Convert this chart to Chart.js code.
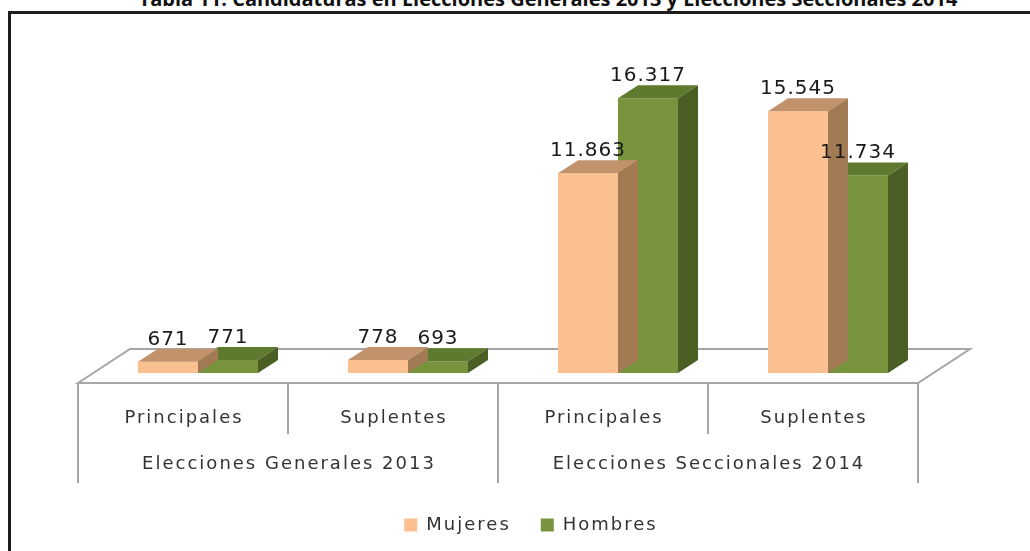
<!DOCTYPE html>
<html>
<head>
<meta charset="utf-8">
<script src="https://cdn.jsdelivr.net/npm/chart.js@4"></script>
<style>
    html, body { margin: 0; padding: 0; background: #fff; overflow: hidden; }
    #wrap { position: relative; width: 1030px; height: 551px; overflow: hidden; }
    #title { position: absolute; left: 0; width: 1096px; top: -15px; text-align: center; font: bold 20px "Open Sans"; color: #111; white-space: nowrap; }
    #frame { position: absolute; left: 8px; top: 11px; width: 1100px; height: 600px; border-left: 3px solid #1c1c1c; border-top: 3px solid #1c1c1c; }
    canvas { position: absolute; left: 0; top: 0; }
</style>
</head>
<body>
<div id="wrap">
    <div id="title">Tabla 11: Candidaturas en Elecciones Generales 2013 y Elecciones Seccionales 2014</div>
    <div id="frame"></div>
    <canvas id="chart" width="1030" height="551"></canvas>
</div>
<script>
const categories = ['Principales', 'Suplentes', 'Principales', 'Suplentes'];
const groups = ['Elecciones Generales 2013', 'Elecciones Seccionales 2014'];
const seriesNames = ['Mujeres', 'Hombres'];
const mujeres = [671, 778, 11863, 15545];
const hombres = [771, 693, 16317, 11734];

const frontColors = ['#FAC090', '#77933C'];
const topColors = ['#C2926C', '#5E7A2E'];
const sideColors = ['#A27A54', '#4B5F24'];

// 3D depth of bars and floor
const DX = 20, DY = -13;
const FLOOR_DX = 52, FLOOR_DY = -34;

const fmt = v => String(v).replace(/\B(?=(\d{3})+(?!\d))/g, '.');

function poly(ctx, pts, fill) {
    ctx.beginPath();
    ctx.moveTo(pts[0][0], pts[0][1]);
    pts.slice(1).forEach(p => ctx.lineTo(p[0], p[1]));
    ctx.closePath();
    ctx.fillStyle = fill;
    ctx.fill();
}

const spacingPlugin = {
    id: 'spacing',
    beforeUpdate(chart) { chart.ctx.letterSpacing = '2px'; },
    beforeDraw(chart) { chart.ctx.letterSpacing = '2px'; }
};

const floorPlugin = {
    id: 'floor',
    beforeDatasetsDraw(chart) {
        const ctx = chart.ctx;
        const a = chart.chartArea;
        const fy = a.bottom + 10;
        const fl = a.left - 15, fr = a.right - 15;
        ctx.save();
        ctx.strokeStyle = '#A6A6A6';
        ctx.lineWidth = 2;
        ctx.beginPath();
        ctx.moveTo(fl, fy);
        ctx.lineTo(fl + FLOOR_DX, fy + FLOOR_DY);
        ctx.lineTo(fr + FLOOR_DX, fy + FLOOR_DY);
        ctx.lineTo(fr, fy);
        ctx.closePath();
        ctx.stroke();

        // category table under the floor
        const w = (a.right - a.left) / categories.length;
        for (let k = 0; k <= categories.length; k++) {
            const x = fl + k * w;
            ctx.beginPath();
            ctx.moveTo(x, fy);
            ctx.lineTo(x, fy + (k % 2 === 0 ? 100 : 51));
            ctx.stroke();
        }
        ctx.fillStyle = '#333';
        ctx.font = '18px "DejaVu Sans"';
        ctx.letterSpacing = '2px';
        ctx.textAlign = 'center';
        ctx.textBaseline = 'middle';
        categories.forEach((c, k) => ctx.fillText(c, fl + (k + 0.5) * w + 1, fy + 35));
        groups.forEach((g, k) => ctx.fillText(g, fl + (k + 0.5) * 2 * w + 1, fy + 81));
        ctx.restore();
    }
};

const depthPlugin = {
    id: 'depth',
    afterDatasetDraw(chart, args) {
        const ctx = chart.ctx;
        const i = args.index;
        const base = chart.scales.y.getPixelForValue(0);
        ctx.save();
        chart.getDatasetMeta(i).data.forEach(bar => {
            const l = bar.x - bar.width / 2, r = bar.x + bar.width / 2, t = bar.y;
            poly(ctx, [[l, t], [r, t], [r + DX, t + DY], [l + DX, t + DY]], topColors[i]);
            poly(ctx, [[r, t], [r + DX, t + DY], [r + DX, base + DY], [r, base]], sideColors[i]);
        });
        ctx.restore();
    },
    afterDatasetsDraw(chart) {
        const ctx = chart.ctx;
        ctx.save();
        ctx.font = '20px "DejaVu Sans"';
        ctx.letterSpacing = '1px';
        ctx.fillStyle = '#1a1a1a';
        ctx.textAlign = 'center';
        ctx.textBaseline = 'alphabetic';
        chart.data.datasets.forEach((ds, i) => {
            chart.getDatasetMeta(i).data.forEach((bar, j) => {
                ctx.fillText(fmt(ds.data[j]), bar.x, bar.y + DY - 4);
            });
        });
        ctx.restore();
    }
};

new Chart(document.getElementById('chart').getContext('2d'), {
    type: 'bar',
    data: {
        labels: categories,
        datasets: [
            { label: seriesNames[0], data: mujeres, backgroundColor: frontColors[0] },
            { label: seriesNames[1], data: hombres, backgroundColor: frontColors[1] }
        ]
    },
    options: {
        responsive: false,
        animation: false,
        layout: { padding: { top: 70, left: 93, right: 61, bottom: 7 } },
        datasets: { bar: { barPercentage: 1, categoryPercentage: 120 / 210 } },
        scales: {
            x: {
                ticks: { display: false },
                grid: { display: false },
                border: { display: false },
                afterFit: s => { s.height = 113; }
            },
            y: {
                position: 'right',
                min: 0,
                max: 18000,
                ticks: { display: false },
                grid: { display: false },
                border: { display: false },
                afterFit: s => { s.width = 36; }
            }
        },
        plugins: {
            legend: {
                position: 'bottom',
                labels: {
                    boxWidth: 13,
                    boxHeight: 13,
                    padding: 30,
                    color: '#333',
                    font: { family: 'DejaVu Sans', size: 18 }
                }
            },
            tooltip: { enabled: false }
        }
    },
    plugins: [spacingPlugin, floorPlugin, depthPlugin]
});
</script>
</body>
</html>
